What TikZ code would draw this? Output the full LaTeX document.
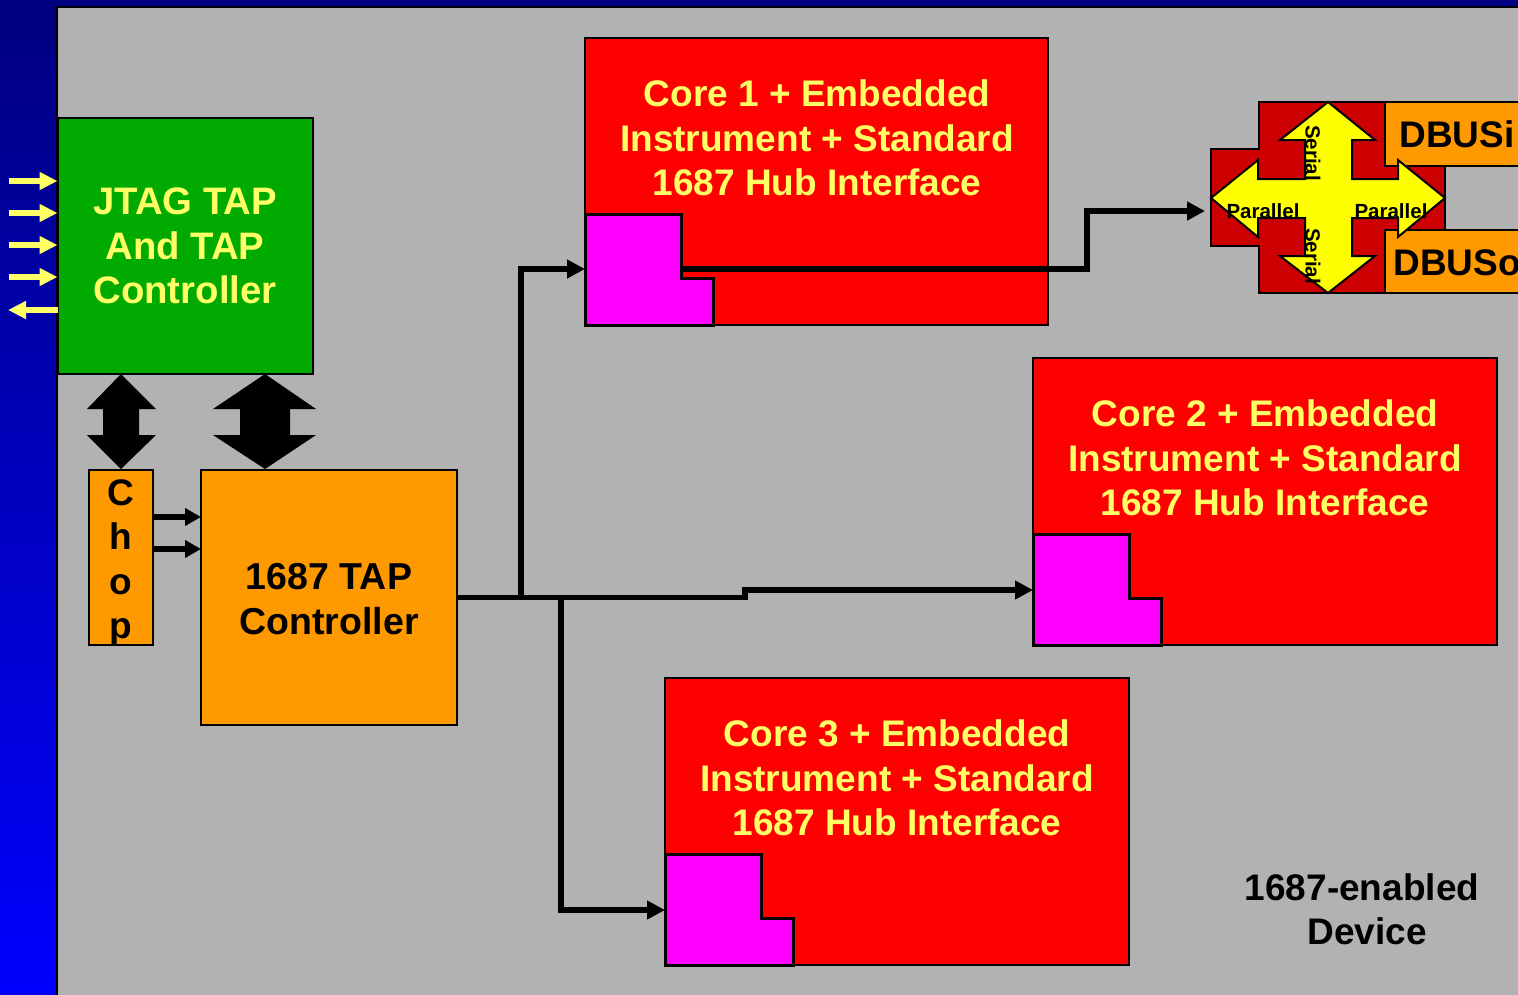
\documentclass[tikz,border=0pt]{standalone}
\usepackage{fontspec}
\setmainfont{Liberation Sans}
\usetikzlibrary{arrows.meta}
\definecolor{navy}{HTML}{000080}
\definecolor{brightblue}{HTML}{0000FF}
\definecolor{panelgray}{HTML}{B2B2B2}
\definecolor{jgreen}{HTML}{00AA00}
\definecolor{orng}{HTML}{FF9900}
\definecolor{cred}{HTML}{FF0000}
\definecolor{dred}{HTML}{CC0000}
\definecolor{mag}{HTML}{FF00FF}
\definecolor{ltyellow}{HTML}{FFFF66}
\definecolor{yel}{HTML}{FFFF00}
\tikzset{
  box/.style={draw=black, line width=2pt, inner sep=0pt, outer sep=0pt},
  bigtxt/.style={font=\bfseries\fontsize{37}{44.5}\selectfont, align=center, inner sep=0pt},
  smalltxt/.style={font=\bfseries\fontsize{20.5}{22}\selectfont, inner sep=0pt},
  conn/.style={line width=5.5pt, line join=miter, -{Triangle[length=18pt,width=18pt]}},
  yarr/.style={draw=ltyellow, line width=6pt, -{Triangle[length=18pt,width=17pt]}},
  magbox/.style={fill=mag, draw=black, line width=3pt},
}
\begin{document}
\begin{tikzpicture}[x=1pt,y=-1pt]
\useasboundingbox (0,0) rectangle (1518,994);
\begin{scope}
\clip (0,0) rectangle (1518,994);
% background
\fill[navy] (0,0) rectangle (1518,8);
\shade[top color=navy, bottom color=brightblue] (0,0) rectangle (57,994);
\filldraw[fill=panelgray, draw=black, line width=1.5pt] (57,7) rectangle (1540,1010);

% JTAG block
\node[box, fill=jgreen, minimum width=255pt, minimum height=256pt] (jtag) at (185,246) {};
\node[bigtxt, font=\bfseries\fontsize{38.3}{44.5}\selectfont, text=ltyellow] (jtagt) at (185,246) {JTAG TAP\\And TAP\\Controller};

% input arrows
\coordinate (i1) at (9,181); \coordinate (i2) at (9,213); \coordinate (i3) at (9,245); \coordinate (i4) at (9,277);
\coordinate (o1) at (8,310);
\draw[yarr] (i1) -- (i1 -| jtag.west);
\draw[yarr] (i2) -- (i2 -| jtag.west);
\draw[yarr] (i3) -- (i3 -| jtag.west);
\draw[yarr] (i4) -- (i4 -| jtag.west);
\draw[yarr] (o1 -| jtag.west) -- (o1);

% Chop
\node[box, fill=orng, minimum width=64pt, minimum height=175pt] (chop) at (121,557.5) {};
\node[bigtxt] (chopt) at (121,563) {C\\h\\o\\p};

% 1687 TAP controller
\node[box, fill=orng, minimum width=256pt, minimum height=255pt] (tap) at (329,597.5) {};
\node[bigtxt, font=\bfseries\fontsize{37.5}{44.5}\selectfont] (tapt) at (329,599) {1687 TAP\\Controller};

% double arrows
\fill[black] (121,374) -- (156,409) -- (139,409) -- (139,435) -- (156,435) -- (121,469)
  -- (87,435) -- (103,435) -- (103,409) -- (87,409) -- cycle;
\fill[black] (265,374) -- (316,409) -- (290,409) -- (290,435) -- (316,435) -- (265,469)
  -- (213,435) -- (240,435) -- (240,409) -- (213,409) -- cycle;

% chop arrows
\coordinate (ca1) at (153,517); \coordinate (ca2) at (153,549);
\draw[line width=6pt, -{Triangle[length=16pt,width=17pt]}] (ca1) -- (ca1 -| tap.west);
\draw[line width=6pt, -{Triangle[length=16pt,width=17pt]}] (ca2) -- (ca2 -| tap.west);

% Core 1
\node[box, fill=cred, minimum width=463pt, minimum height=287pt] (core1) at (816.5,181.5) {};
\node[bigtxt, text=ltyellow] (core1t) at (817,138) {Core 1 + Embedded\\Instrument + Standard\\1687 Hub Interface};
\draw[magbox] (585,214) -- (681,214) -- (681,278) -- (713,278) -- (713,325) -- (585,325) -- cycle;

% Core 2
\node[box, fill=cred, minimum width=464pt, minimum height=287pt] (core2) at (1265,501.5) {};
\node[bigtxt, text=ltyellow] (core2t) at (1265,458) {Core 2 + Embedded\\Instrument + Standard\\1687 Hub Interface};
\draw[magbox] (1033,534) -- (1129,534) -- (1129,598) -- (1161,598) -- (1161,645) -- (1033,645) -- cycle;

% Core 3
\node[box, fill=cred, minimum width=464pt, minimum height=287pt] (core3) at (897,821.5) {};
\node[bigtxt, text=ltyellow] (core3t) at (897,778) {Core 3 + Embedded\\Instrument + Standard\\1687 Hub Interface};
\draw[magbox] (665,854) -- (761,854) -- (761,918) -- (793,918) -- (793,965) -- (665,965) -- cycle;

% DBUS cross
\filldraw[fill=dred, draw=black, line width=2pt] (1259,102) -- (1398,102) -- (1398,149) -- (1445,149) -- (1445,246)
  -- (1398,246) -- (1398,293) -- (1259,293) -- (1259,246) -- (1211,246) -- (1211,149) -- (1259,149) -- cycle;
\node[box, fill=orng, minimum width=150pt, minimum height=64pt, anchor=north west] (dbusi) at (1385,102) {};
\node[box, fill=orng, minimum width=150pt, minimum height=63pt, anchor=north west] (dbuso) at (1385,230) {};
\node[bigtxt] (dbusit) at (1457,134) {DBUSi};
\node[bigtxt] (dbusot) at (1457,263) {DBUSo};
\filldraw[fill=yel, draw=black, line width=2pt, line join=miter]
  (1328,102) -- (1375,140) -- (1352,140) -- (1352,179) -- (1398,179) -- (1398,160) -- (1445,198)
  -- (1398,237) -- (1398,218) -- (1352,218) -- (1352,256) -- (1375,256) -- (1328,293)
  -- (1280,256) -- (1305,256) -- (1305,218) -- (1258,218) -- (1258,237) -- (1211,198)
  -- (1258,160) -- (1258,179) -- (1305,179) -- (1305,140) -- (1280,140) -- cycle;
\coordinate (xin) at (1205,211);
\node[smalltxt, rotate=-90] (ser1) at (1313,153) {Serial};
\node[smalltxt, rotate=-90] (ser2) at (1313,256) {Serial};
\node[smalltxt] (par1) at (1263,211) {Parallel};
\node[smalltxt] (par2) at (1391,211) {Parallel};

% connectors
\coordinate (m1in) at (585,269);
\coordinate (m1out) at (681,269);
\coordinate (m2in) at (1033,590);
\coordinate (m3in) at (665,910);
\coordinate (b1) at (521,597.5);
\coordinate (b3) at (561,597.5);
\coordinate (st) at (745,597.5);
\coordinate (up) at (1087,211);
\draw[conn] (tap.east) -- (st) -- (st |- m2in) -- (m2in);
\draw[conn] (b1) -- (b1 |- m1in) -- (m1in);
\draw[conn] (b3) -- (b3 |- m3in) -- (m3in);
\draw[conn] (m1out) -- (up |- m1out) -- (up) -- (xin);

% label
\node[bigtxt] (dev) at (1362,887) {1687-enabled};
\node[bigtxt] (dev2) at (1367,931) {Device};
\end{scope}
\end{tikzpicture}
\end{document}
